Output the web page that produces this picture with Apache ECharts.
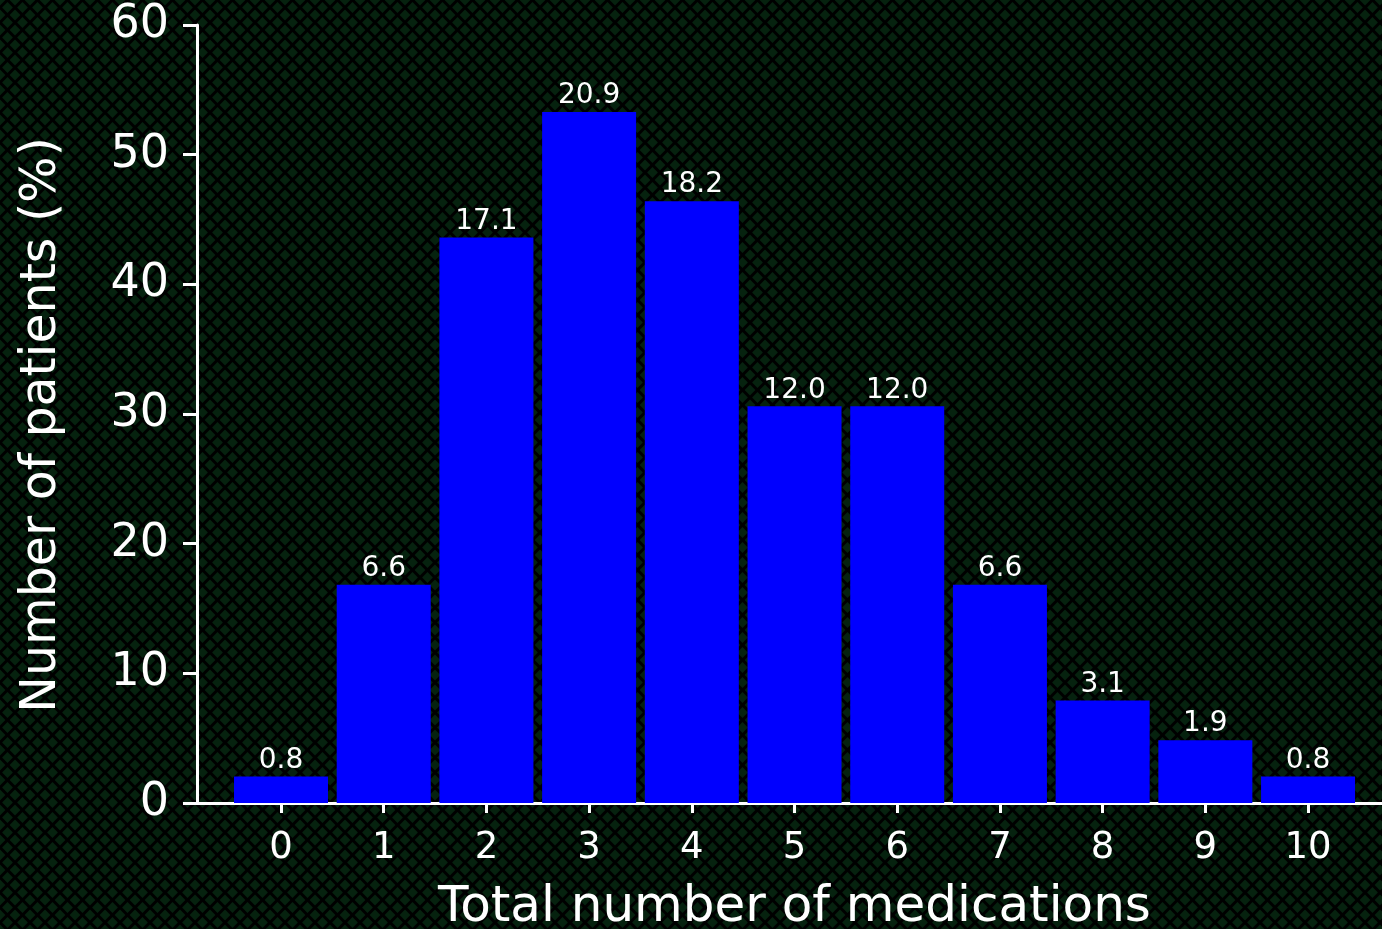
<!DOCTYPE html>
<html>
<head>
<meta charset="utf-8">
<script src="https://cdn.jsdelivr.net/npm/echarts@6/dist/echarts.min.js"></script>
<style>
  html, body { margin: 0; padding: 0; background: #000; overflow: hidden; }
  #chart { width: 1382px; height: 929px; }
</style>
</head>
<body>
<div id="chart"></div>
<script>
// Number of medications taken per patient
const medicationCounts = [0, 1, 2, 3, 4, 5, 6, 7, 8, 9, 10];
// Share of patients (%) for each medication count
const percentOfPatients = [0.8, 6.6, 17.1, 20.9, 18.2, 12.0, 12.0, 6.6, 3.1, 1.9, 0.8];
// Cohort size used to turn the shares into patient numbers
const cohortSize = 255;
const yTicks = [0, 10, 20, 30, 40, 50, 60];

// Dark diamond texture behind the plot
(function () {
  const c = document.createElement('canvas');
  const p = 15;
  c.width = p; c.height = p;
  const g = c.getContext('2d');
  g.fillStyle = '#000';
  g.fillRect(0, 0, p, p);
  g.fillStyle = '#06220f';
  const r = 5.4;
  const centres = [[0, 0], [p, 0], [0, p], [p, p], [p / 2, p / 2]];
  centres.forEach(([cx, cy]) => {
    g.beginPath();
    g.moveTo(cx, cy - r);
    g.lineTo(cx + r, cy);
    g.lineTo(cx, cy + r);
    g.lineTo(cx - r, cy);
    g.closePath();
    g.fill();
  });
  document.getElementById('chart').style.backgroundImage = 'url(' + c.toDataURL() + ')';
})();

const FONT = '"DejaVu Sans", Verdana, sans-serif';
const WHITE = '#ffffff';

const barData = medicationCounts.map((m, i) => ({
  value: [m, percentOfPatients[i] * cohortSize / 100],
  pct: percentOfPatients[i]
}));

const chart = echarts.init(document.getElementById('chart'), null, { renderer: 'canvas' });
chart.setOption({
  backgroundColor: 'transparent',
  animation: false,
  grid: { left: 197, right: 0, top: 25, bottom: 126, containLabel: false, outerBoundsMode: 'none' },
  xAxis: {
    type: 'value',
    min: -0.818,
    max: 10.72,
    name: 'Total number of medications',
    nameLocation: 'middle',
    nameGap: 80,
    nameTextStyle: { color: WHITE, fontFamily: FONT, fontSize: 50, padding: [0, 0, 0, 10] },
    axisLine: { show: true, onZero: false, lineStyle: { color: WHITE, width: 3 } },
    axisTick: { show: true, customValues: medicationCounts, inside: false, length: 10, lineStyle: { color: WHITE, width: 3 } },
    axisLabel: {
      customValues: medicationCounts,
      color: WHITE, fontFamily: FONT, fontSize: 37, margin: 27,
      formatter: v => String(Math.round(v))
    },
    splitLine: { show: false }
  },
  yAxis: {
    type: 'value',
    min: 0,
    max: 60,
    interval: 10,
    name: 'Number of patients (%)',
    nameLocation: 'middle',
    nameGap: 130,
    nameRotate: 90,
    nameTextStyle: { color: WHITE, fontFamily: FONT, fontSize: 49, padding: [0, 22, 0, 0] },
    axisLine: { show: true, onZero: false, lineStyle: { color: WHITE, width: 3 } },
    axisTick: { show: true, length: 14, lineStyle: { color: WHITE, width: 3 } },
    axisLabel: { color: WHITE, fontFamily: FONT, fontSize: 46, margin: 28, padding: [12, 0, 0, 0] },
    splitLine: { show: false }
  },
  series: [{
    type: 'bar',
    data: barData,
    barWidth: 94,
    itemStyle: { color: '#0000ff' },
    label: {
      show: true,
      position: 'top',
      distance: 2,
      color: WHITE,
      fontFamily: FONT,
      fontSize: 28,
      formatter: p => p.data.pct.toFixed(1)
    }
  }]
});
</script>
</body>
</html>
